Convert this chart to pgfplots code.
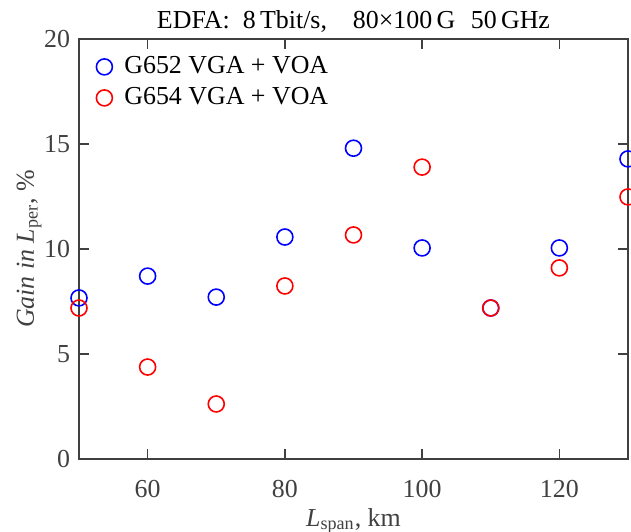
\documentclass[border=0pt]{standalone}
\usepackage{fontspec}
\setmainfont{Liberation Serif}
\usepackage{pgfplots}
\pgfplotsset{compat=1.18}
\definecolor{axgray}{RGB}{64,64,64}
\begin{document}
\fontsize{13}{15}\selectfont
\begin{tikzpicture}
\begin{axis}[
  scale only axis,
  width=274.5bp, height=210bp,
  xmin=50, xmax=130, ymin=0, ymax=20,
  xtick={60,80,100,120},
  xticklabels={60,80,100,120},
  ytick={0,5,10,15,20},
  yticklabels={0,5,10,15,20},
  tick align=inside,
  major tick length=5bp,
  tick style={axgray, line width=0.8bp},
  axis line style={axgray, line width=1.1bp},
  ticklabel style={text=axgray, font=\fontsize{13}{15}\selectfont},
  xticklabel style={yshift=-6bp},
  xlabel={\textit{L}\textsubscript{span}, km},
  ylabel={\textit{Gain in L}\textsubscript{per}, \%},
  label style={text=axgray, font=\fontsize{13}{15}\selectfont},
  xlabel style={yshift=3.5bp},
  ylabel style={yshift=-7.5bp},
  title={EDFA:\enspace 8\,Tbit/s,\quad 80×100\,G\hspace{0.6em}50\,GHz},
  title style={yshift=-7bp, font=\fontsize{13}{15}\selectfont},
  legend image code/.code={\path[draw=none,fill=none] (0bp,-2bp) rectangle (12bp,2bp); \draw[#1] plot coordinates {(4bp,0bp)};},
  legend style={at={(0,1)}, anchor=north west, xshift=7.5bp, yshift=-5.5bp, draw=none, fill=none,
    font=\fontsize{13}{15}\selectfont, row sep=1bp, inner sep=1bp},
  legend cell align=left,
  clip=false,
]
\addplot[only marks, mark=o, blue, mark size=4bp, line width=0.8bp] coordinates {
(50,7.67) (60,8.71) (70,7.71) (80,10.57) (90,14.8) (100,10.05) (110,7.19) (120,10.05) (130,14.29)};
\addlegendentry{G652 VGA + VOA}
\addplot[only marks, mark=o, red, mark size=4bp, line width=0.8bp] coordinates {
(50,7.19) (60,4.38) (70,2.62) (80,8.24) (90,10.67) (100,13.9) (110,7.19) (120,9.1) (130,12.48)};
\addlegendentry{G654 VGA + VOA}
\end{axis}
\pgfresetboundingbox
\path ([xshift=-39.5bp,yshift=-36.5bp]current axis.south west) rectangle ([xshift=1.5bp,yshift=19.5bp]current axis.north east);
\end{tikzpicture}
\end{document}
